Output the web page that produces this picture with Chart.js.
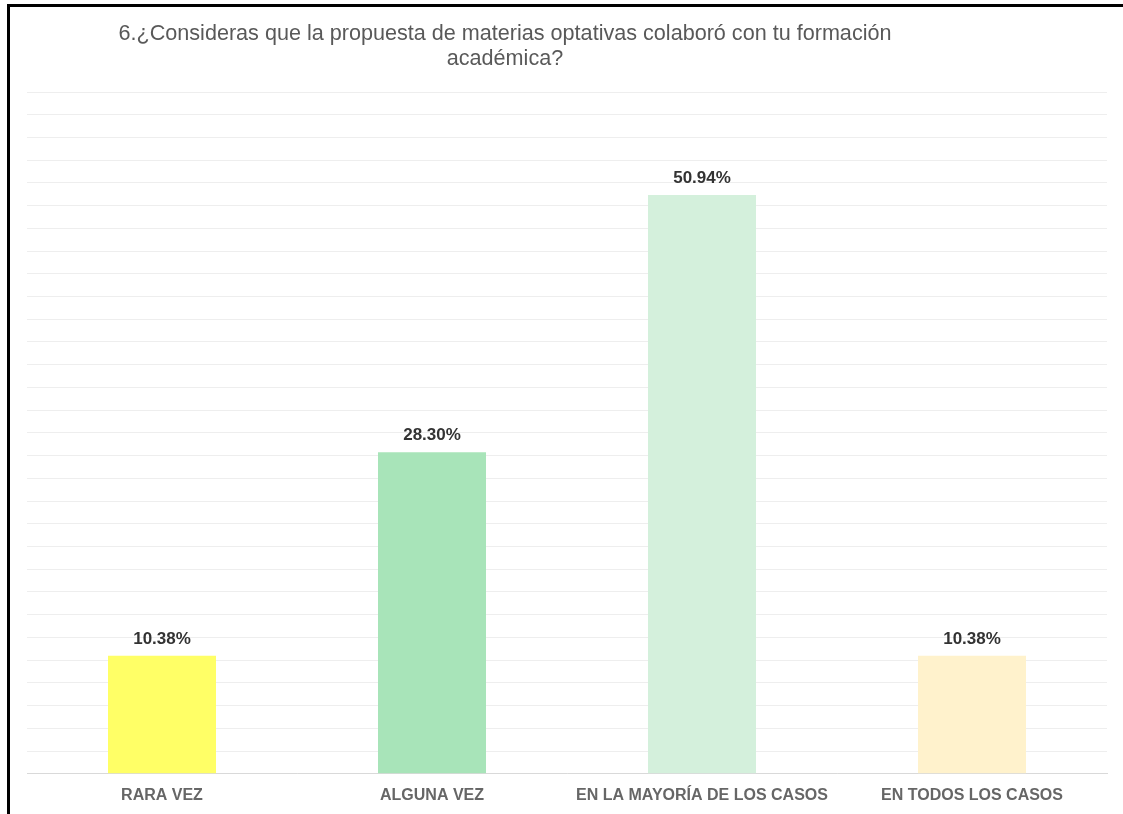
<!DOCTYPE html>
<html>
<head>
<meta charset="utf-8">
<script src="https://cdn.jsdelivr.net/npm/chart.js@4.4.0/dist/chart.umd.min.js"></script>
<style>
  html, body { margin: 0; padding: 0; background: #fff; }
  #wrap { position: relative; width: 1123px; height: 814px; overflow: hidden; }
  #frame { position: absolute; left: 7px; top: 4px; width: 1120px; height: 807px;
           border-left: 3px solid #000; border-top: 3px solid #000; border-bottom: 1px solid #c8c8c8; }
  #title { position: absolute; left: 85px; width: 840px; top: 20px; text-align: center;
           font-family: "Liberation Sans", Arial, sans-serif; font-size: 21.6px; line-height: 25px; color: #595959; }
  canvas { position: absolute; left: 0; top: 0; }
</style>
</head>
<body>
<div id="wrap">
  <div id="frame"></div>
  <canvas id="c" width="1123" height="827"></canvas>
  <div id="title">6.¿Consideras que la propuesta de materias optativas colaboró con tu formación<br>académica?</div>
</div>
<script>
const categories = ["RARA VEZ", "ALGUNA VEZ", "EN LA MAYORÍA DE LOS CASOS", "EN TODOS LOS CASOS"];
const values = [10.38, 28.30, 50.94, 10.38];
const valueLabels = ["10.38%", "28.30%", "50.94%", "10.38%"];
const barColors = ["#FFFF66", "#A8E4B9", "#D4F0DC", "#FFF2CC"];
const yMax = 60;
const yStep = 2;

const dataLabelPlugin = {
  id: 'dataLabels',
  afterDatasetsDraw(chart) {
    const ctx = chart.ctx;
    const meta = chart.getDatasetMeta(0);
    ctx.save();
    ctx.font = 'bold 17px "Liberation Sans", Arial, sans-serif';
    ctx.fillStyle = '#333333';
    ctx.textAlign = 'center';
    ctx.textBaseline = 'alphabetic';
    meta.data.forEach((bar, i) => {
      ctx.fillText(valueLabels[i], bar.x, bar.y - 12);
    });
    ctx.restore();
  }
};

new Chart(document.getElementById('c'), {
  type: 'bar',
  data: {
    labels: categories,
    datasets: [{
      data: values,
      backgroundColor: barColors,
      borderWidth: 0,
      barPercentage: 0.4,
      categoryPercentage: 1.0
    }]
  },
  options: {
    responsive: false,
    animation: false,
    layout: { padding: { left: 27, right: 16, top: 92, bottom: 10 } },
    plugins: { legend: { display: false }, tooltip: { enabled: false }, title: { display: false } },
    scales: {
      x: {
        grid: { display: false, drawTicks: false },
        border: { display: true, color: '#d9d9d9', width: 1 },
        ticks: { color: '#666666', padding: 12, maxRotation: 0, autoSkip: false,
                 font: { family: '"Liberation Sans", Arial, sans-serif', size: 16, weight: 'bold' } }
      },
      y: {
        min: 0, max: yMax,
        ticks: { display: false, stepSize: yStep },
        grid: { color: '#eeeeee', lineWidth: 1, drawTicks: false },
        border: { display: false }
      }
    }
  },
  plugins: [dataLabelPlugin]
});
</script>
</body>
</html>
